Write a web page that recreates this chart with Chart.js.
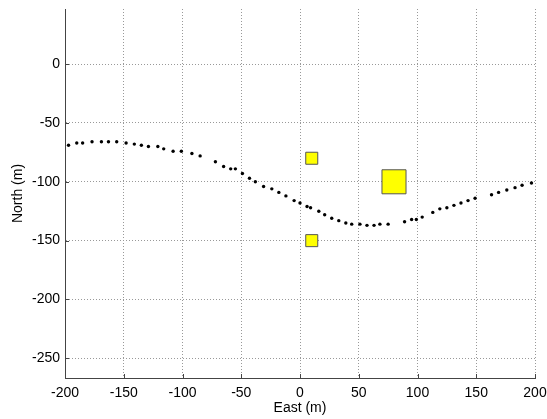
<!DOCTYPE html>
<html>
<head>
<meta charset="utf-8">
<script src="https://cdn.jsdelivr.net/npm/chart.js@4"></script>
<style>
  body { margin: 0; background: #fff; }
  canvas { display: block; }
</style>
</head>
<body>
<canvas id="grafico" width="547" height="419"></canvas>
<script>
// Trajetória (pontos pretos)
const trackEast = [-197, -190, -185, -177, -169, -163, -156, -148, -141, -135,
  -129, -121, -116, -108, -101, -92, -85, -72, -65, -59,
  -55, -49, -43, -38, -31, -24, -18, -12, -5, 0,
  6, 9, 16, 21, 27, 33, 39, 44, 51, 57,
  63, 68, 75, 89, 95, 99, 104, 113, 119, 125,
  131, 137, 143, 149, 163, 169, 176, 183, 189, 197];
const trackNorth = [-69, -67, -67, -66, -66, -66, -66, -67, -68, -69,
  -70, -70, -72, -74, -74, -76, -78, -83, -87, -89,
  -89, -93, -97, -100, -104, -106, -109, -112, -116, -118,
  -121, -122, -125, -128, -131, -133, -135, -136, -136, -137,
  -137, -136, -136, -134, -132, -132, -130, -126, -123, -122,
  -120, -118, -116, -114, -111, -109, -107, -105, -103, -101];

// Alvos (quadrados amarelos)
const targetEast = [10, 80, 10];
const targetNorth = [-80, -100, -150];

// Marcas dos eixos
const xTicks = [-200, -150, -100, -50, 0, 50, 100, 150, 200];
const yTicks = [-250, -200, -150, -100, -50, 0];

const font = { family: 'Liberation Sans, Arial, sans-serif', size: 14 };

// Pequenos traços para dentro nos eixos (estilo MATLAB)
const innerTicks = {
  id: 'innerTicks',
  afterDraw(chart) {
    const { ctx, chartArea, scales } = chart;
    ctx.save();
    ctx.strokeStyle = '#444';
    ctx.lineWidth = 1;
    ctx.beginPath();
    xTicks.forEach(v => {
      const x = Math.round(scales.x.getPixelForValue(v)) + 0.5;
      ctx.moveTo(x, chartArea.bottom);
      ctx.lineTo(x, chartArea.bottom - 4);
    });
    yTicks.forEach(v => {
      const y = Math.round(scales.y.getPixelForValue(v)) + 0.5;
      ctx.moveTo(chartArea.left, y);
      ctx.lineTo(chartArea.left + 4, y);
    });
    ctx.stroke();
    ctx.restore();
  }
};

const ctx = document.getElementById('grafico').getContext('2d');
new Chart(ctx, {
  type: 'scatter',
  data: {
    datasets: [
      {
        data: trackEast.map((e, i) => ({ x: e, y: trackNorth[i] })),
        pointStyle: 'circle',
        pointRadius: 1.7,
        backgroundColor: '#000',
        borderColor: '#000',
        borderWidth: 0
      },
      {
        data: targetEast.map((e, i) => ({ x: e, y: targetNorth[i] })),
        pointStyle: 'rect',
        pointRadius: [8.5, 17, 8.5],
        backgroundColor: '#ffff00',
        borderColor: '#555',
        borderWidth: 1
      }
    ]
  },
  options: {
    responsive: false,
    animation: false,
    events: [],
    layout: { autoPadding: false, padding: { left: 0, top: 9, right: 12, bottom: 0 } },
    plugins: { legend: { display: false }, tooltip: { enabled: false } },
    scales: {
      x: {
        type: 'linear',
        min: -200,
        max: 200,
        afterBuildTicks: s => { s.ticks = xTicks.map(v => ({ value: v })); },
        afterFit: s => { s.height = 41; s.paddingLeft = 0; s.paddingRight = 0; },
        grid: { color: '#999', drawTicks: false },
        border: { display: true, color: '#444', width: 1, dash: [1, 2] },
        ticks: { color: '#000', font: font, padding: 7, maxRotation: 0 },
        title: { display: true, text: 'East (m)', color: '#000', font: font, padding: { top: 0, bottom: 2 } }
      },
      y: {
        type: 'linear',
        min: -266.7,
        max: 46.8,
        afterBuildTicks: s => { s.ticks = yTicks.map(v => ({ value: v })); },
        afterFit: s => { s.width = 65; s.paddingTop = 0; s.paddingBottom = 0; },
        grid: { color: '#999', drawTicks: false },
        border: { display: true, color: '#444', width: 1, dash: [1, 2] },
        ticks: { color: '#000', font: font, padding: 5 },
        title: { display: true, text: 'North (m)', color: '#000', font: font, padding: { top: 10, bottom: 0 } }
      }
    }
  },
  plugins: [innerTicks]
});
</script>
</body>
</html>
